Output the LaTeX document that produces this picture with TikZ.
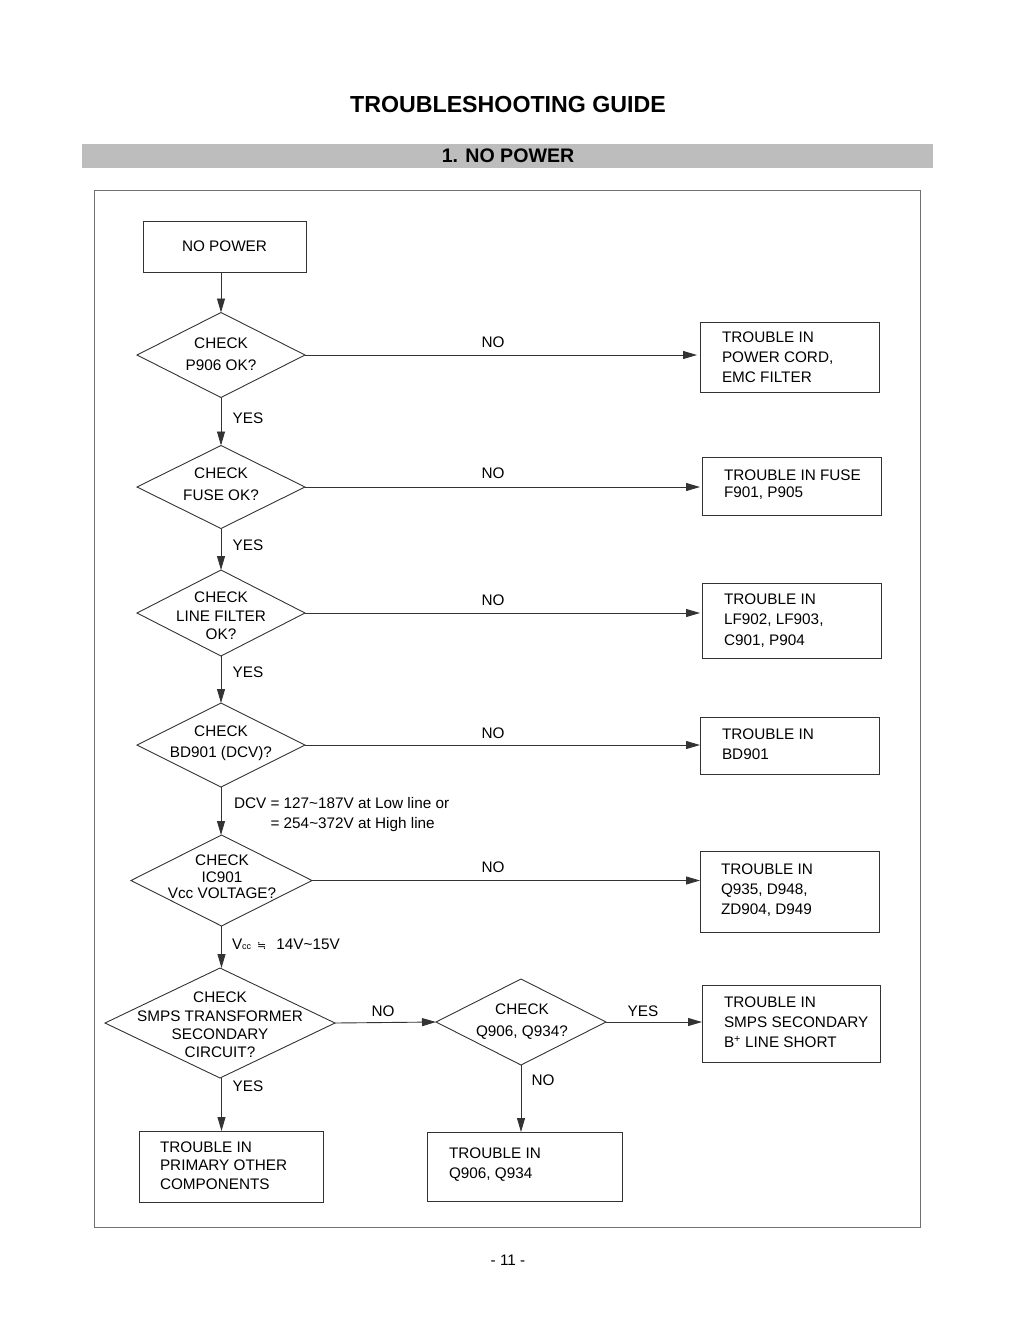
\documentclass[tikz,border=0pt]{standalone}
\usepackage{fontspec}
\setmainfont{Liberation Sans}
\newfontfamily\djv{DejaVu Sans}
\usetikzlibrary{shapes.geometric,arrows.meta}
\definecolor{bandgray}{HTML}{BDBDBD}
\definecolor{linegray}{HTML}{333333}
\tikzset{
  x=1pt, y=-1pt,
  every node/.style={font=\fontsize{15.3}{20}\selectfont, inner sep=0pt, outer sep=0pt},
  box/.style={draw=linegray, line width=0.9pt, rectangle, minimum width=#1},
  dia/.style={draw=linegray, line width=0.9pt, diamond, minimum width=#1},
  btext/.style={anchor=west, align=left},
  dtext/.style={align=center},
  lbl/.style={},
  flow/.style={draw=linegray, line width=0.9pt, -{Triangle[length=14pt,width=8pt]}},
}
\begin{document}
\begin{tikzpicture}
\useasboundingbox (0,0) rectangle (1020,1320);
% title
\node[font=\fontsize{23.2}{26}\selectfont\bfseries] (title) at (508,105) {TROUBLESHOOTING GUIDE};
\fill[bandgray] (82,144) rectangle (933,168);
\node[font=\fontsize{19.6}{22}\selectfont\bfseries] (sect) at (508,156) {1. NO POWER};
\draw[draw=linegray!70, line width=0.9pt] (94,190) rectangle (920,1227);
\node (page) at (508,1260) {- 11 -};

% start
\node[box=163, minimum height=51] (start) at (224.5,246.5) {};
\node (starttxt) at (start) {NO POWER};

% diamonds
\node[dia=168, minimum height=85] (d1) at (221,355) {};
\node[dtext, font=\fontsize{15.3}{22}\selectfont] (d1t) at (221,354.5) {CHECK\\P906 OK?};
\node[dia=168, minimum height=83] (d2) at (221,487) {};
\node[dtext, font=\fontsize{15.3}{22}\selectfont] (d2t) at (221,484.5) {CHECK\\FUSE OK?};
\node[dia=168, minimum height=86] (d3) at (221,613) {};
\node[dtext, font=\fontsize{15.3}{18.5}\selectfont] (d3t) at (221,616) {CHECK\\LINE FILTER\\OK?};
\node[dia=168, minimum height=84] (d4) at (221,745) {};
\node[dtext, font=\fontsize{15.3}{21}\selectfont] (d4t) at (221,743.5) {CHECK\\BD901 (DCV)?};
\node[dia=181, minimum height=91] (d5) at (221.5,880.5) {};
\node[dtext, font=\fontsize{15.3}{16.5}\selectfont] (d5t) at (222,877) {CHECK\\IC901\\Vcc VOLTAGE?};
\node[dia=230, minimum height=110] (d6) at (220,1023) {};
\node[dtext, font=\fontsize{15.3}{18.3}\selectfont] (d6t) at (220,1025) {CHECK\\SMPS TRANSFORMER\\SECONDARY\\CIRCUIT?};
\node[dia=170, minimum height=86] (d7) at (521,1022) {};
\node[dtext, font=\fontsize{15.3}{22}\selectfont] (d7t) at (522,1022) {CHECK\\Q906, Q934?};

% result boxes
\node[box=179, minimum height=70] (b1) at (789.5,357) {};
\node[btext] (b1t) at ([xshift=22]b1.west) {TROUBLE IN\\POWER CORD,\\EMC FILTER};
\node[box=179, minimum height=58] (b2) at (791.5,486) {};
\node[btext, font=\fontsize{15.3}{17}\selectfont] (b2t) at ([xshift=22,yshift=1.5]b2.west) {TROUBLE IN FUSE\\F901, P905};
\node[box=179, minimum height=75] (b3) at (791.5,620.5) {};
\node[btext, font=\fontsize{15.3}{20.5}\selectfont] (b3t) at ([xshift=22]b3.west) {TROUBLE IN\\LF902, LF903,\\C901, P904};
\node[box=179, minimum height=57] (b4) at (789.5,745.5) {};
\node[btext] (b4t) at ([xshift=22,yshift=1.5]b4.west) {TROUBLE IN\\BD901};
\node[box=179, minimum height=81] (b5) at (789.5,891.5) {};
\node[btext] (b5t) at ([xshift=21,yshift=1.5]b5.west) {TROUBLE IN\\Q935, D948,\\ZD904, D949};
\node[box=178, minimum height=77] (b7) at (791,1023.5) {};
\node[btext] (b7t) at ([xshift=22,yshift=1.5]b7.west) {TROUBLE IN\\SMPS SECONDARY\\B\textsuperscript{+} LINE SHORT};
\node[box=195, minimum height=69] (bq) at (524.5,1166.5) {};
\node[btext] (bqt) at ([xshift=22,yshift=1.5]bq.west) {TROUBLE IN\\Q906, Q934};
\node[box=184, minimum height=71] (bp) at (231,1166.5) {};
\node[btext, font=\fontsize{15.3}{18.5}\selectfont] (bpt) at ([xshift=21,yshift=1]bp.west) {TROUBLE IN\\PRIMARY OTHER\\COMPONENTS};

% vertical flow
\draw[flow] (start.south -| d1.north) -- (d1.north);
\draw[flow] (d1.south) -- (d1.south |- d2.north);
\draw[flow] (d2.south) -- (d2.south |- d3.north);
\draw[flow] (d3.south) -- (d3.south |- d4.north);
\draw[flow] (d4.south) -- (d4.south |- d5.north);
\draw[flow] (d5.south) -- (d5.south |- d6.north);
\draw[flow] ([xshift=1.5]d6.south) -- ([xshift=1.5]d6.south |- bp.north);
\draw[flow] (d7.south) -- (d7.south |- bq.north);

% horizontal flow
\draw[flow] (d1.east) -- ([xshift=-3]b1.west |- d1.east);
\draw[flow] (d2.east) -- ([xshift=-2]b2.west |- d2.east);
\draw[flow] (d3.east) -- ([xshift=-2]b3.west |- d3.east);
\draw[flow] (d4.east) -- (b4.west |- d4.east);
\draw[flow] (d5.east) -- (b5.west |- d5.east);
\draw[flow] (d6.east) -- (d7.west);
\draw[flow] (d7.east) -- (b7.west |- d7.east);

% labels
\node[lbl] (n1) at (493,342) {NO};
\node[lbl] (n2) at (493,473) {NO};
\node[lbl] (n3) at (493,600) {NO};
\node[lbl] (n4) at (493,733) {NO};
\node[lbl] (n5) at (493,867) {NO};
\node[lbl] (n6) at (383,1011) {NO};
\node[lbl] (y7) at (643,1011) {YES};
\node[lbl] (n7) at (543,1080) {NO};
\node[lbl] (y1) at (248,418) {YES};
\node[lbl] (y2) at (248,545) {YES};
\node[lbl] (y3) at (248,672) {YES};
\node[lbl] (y6) at (248,1086) {YES};
\node[btext] (dcv) at (234,815) {DCV = 127\textasciitilde187V at Low line or\\\phantom{DCV }= 254\textasciitilde372V at High line};
\node[anchor=west] (vcc) at (232,944) {V{\fontsize{9}{10}\selectfont cc}\hspace{6pt}{\djv\fontsize{11}{12}\selectfont ≒}\hspace{10pt}14V\textasciitilde15V};
\end{tikzpicture}
\end{document}
